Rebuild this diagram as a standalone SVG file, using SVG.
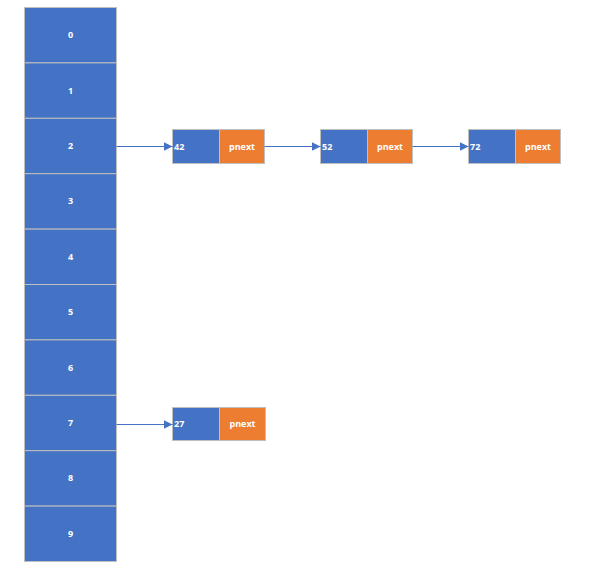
<svg xmlns="http://www.w3.org/2000/svg" width="590" height="574" viewBox="0 0 590 574">
<style>
.cell{fill:#4472C4;stroke:#BFBFBF;stroke-width:1}
.val{fill:#4472C4;stroke:#BFBFBF;stroke-width:1}
.ptr{fill:#ED7D31;stroke:#BFBFBF;stroke-width:1}
.t{fill:#FFFFFF;font-family:"Open Sans","Liberation Sans",sans-serif;font-size:9px;font-weight:bold}
.c{text-anchor:middle}
.conn{stroke:#4472C4;stroke-width:1.2;fill:none;marker-end:url(#ah)}
</style>
<defs>
<marker id="ah" viewBox="0 0 10 10" refX="10" refY="5" markerWidth="9" markerHeight="9" markerUnits="userSpaceOnUse" orient="auto">
<path d="M0,0 L10,5 L0,10 z" fill="#4472C4"/>
</marker>
</defs>
<rect x="0" y="0" width="590" height="574" fill="#FFFFFF"/>
<g id="array">
<g id="cell0"><rect class="cell" x="24.5" y="7.5" width="92" height="55.4"/><text class="t c" x="70.5" y="38.2">0</text></g>
<g id="cell1"><rect class="cell" x="24.5" y="62.9" width="92" height="55.4"/><text class="t c" x="70.5" y="93.6">1</text></g>
<g id="cell2"><rect class="cell" x="24.5" y="118.3" width="92" height="55.4"/><text class="t c" x="70.5" y="149">2</text></g>
<g id="cell3"><rect class="cell" x="24.5" y="173.7" width="92" height="55.4"/><text class="t c" x="70.5" y="204.4">3</text></g>
<g id="cell4"><rect class="cell" x="24.5" y="229.1" width="92" height="55.4"/><text class="t c" x="70.5" y="259.8">4</text></g>
<g id="cell5"><rect class="cell" x="24.5" y="284.5" width="92" height="55.4"/><text class="t c" x="70.5" y="315.2">5</text></g>
<g id="cell6"><rect class="cell" x="24.5" y="339.9" width="92" height="55.4"/><text class="t c" x="70.5" y="370.6">6</text></g>
<g id="cell7"><rect class="cell" x="24.5" y="395.3" width="92" height="55.4"/><text class="t c" x="70.5" y="426">7</text></g>
<g id="cell8"><rect class="cell" x="24.5" y="450.7" width="92" height="55.4"/><text class="t c" x="70.5" y="481.4">8</text></g>
<g id="cell9"><rect class="cell" x="24.5" y="506.1" width="92" height="55.4"/><text class="t c" x="70.5" y="536.8">9</text></g>
</g>
<g id="node42"><rect class="val" x="172.5" y="129.5" width="47" height="34"/><rect class="ptr" x="219.5" y="129.5" width="45" height="34"/><text class="t" x="174" y="149.5">42</text><text class="t c" x="242" y="149.5">pnext</text></g>
<g id="node52"><rect class="val" x="320.5" y="129.5" width="47" height="34"/><rect class="ptr" x="367.5" y="129.5" width="45" height="34"/><text class="t" x="322" y="149.5">52</text><text class="t c" x="390" y="149.5">pnext</text></g>
<g id="node72"><rect class="val" x="468.5" y="129.5" width="47" height="34"/><rect class="ptr" x="515.5" y="129.5" width="45" height="34"/><text class="t" x="470" y="149.5">72</text><text class="t c" x="538" y="149.5">pnext</text></g>
<g id="node27"><rect class="val" x="172.5" y="407.5" width="47" height="33"/><rect class="ptr" x="219.5" y="407.5" width="46" height="33"/><text class="t" x="174" y="427">27</text><text class="t c" x="242.5" y="427">pnext</text></g>
<g id="connectors">
<line class="conn" x1="116.5" y1="146.5" x2="172.5" y2="146.5"/>
<line class="conn" x1="264.5" y1="146.5" x2="320.5" y2="146.5"/>
<line class="conn" x1="412.5" y1="146.5" x2="468.5" y2="146.5"/>
<line class="conn" x1="116.5" y1="424.5" x2="172.5" y2="424.5"/>
</g>
</svg>
